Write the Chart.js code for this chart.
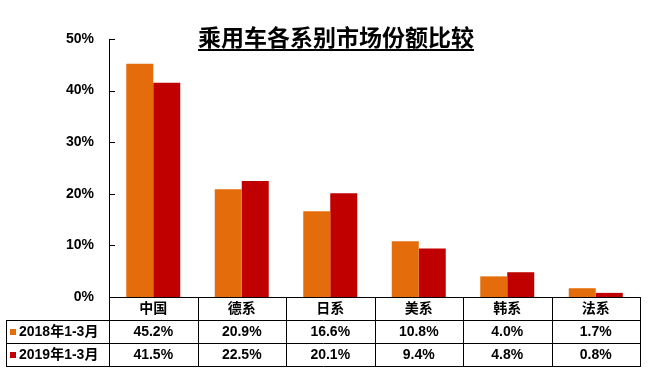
<!DOCTYPE html>
<html>
<head>
<meta charset="utf-8">
<script src="https://cdn.jsdelivr.net/npm/chart.js@4/dist/chart.umd.min.js"></script>
<style>
  html, body { margin: 0; padding: 0; background: #fff; }
  #wrap { width: 648px; height: 371px; position: relative; }
</style>
</head>
<body>
<div id="wrap"><canvas id="c" width="648" height="371"></canvas></div>
<script>
// -- data --
const TITLE = '乘用车各系别市场份额比较';
const categories = ['中国', '德系', '日系', '美系', '韩系', '法系'];
const seriesNames = ['2018年1-3月', '2019年1-3月'];
const share2018 = [45.2, 20.9, 16.6, 10.8, 4.0, 1.7];
const share2019 = [41.5, 22.5, 20.1, 9.4, 4.8, 0.8];
const yTicks = [0, 10, 20, 30, 40, 50];

const COLORS = {
    orange: '#E46C0A',
    red: '#C00000',
    line: '#000000',
    text: '#000000',
};

const FONT_NUM = "bold 14px 'Liberation Sans', Arial, 'Noto Sans CJK SC', sans-serif";

// title, inside ticks and the data table under the plot
const tablePlugin = {
    id: 'dataTable',
    afterDraw(chart) {
        const ctx = chart.ctx;
        const area = chart.chartArea;
        const y = chart.scales.y;
        const left = Math.round(area.left);
        const right = Math.round(area.right);
        const base = Math.round(area.bottom);
        const rowH = 23;
        const tableLeft = 6;
        const colW = (right - left) / categories.length;

        ctx.save();

        // title with underline
        ctx.fillStyle = COLORS.text;
        ctx.font = "bold 23px 'Noto Sans CJK SC', sans-serif";
        ctx.textAlign = 'center';
        ctx.textBaseline = 'middle';
        const tx = 336;
        const ty = 37;
        ctx.fillText(TITLE, tx, ty);
        const tw = ctx.measureText(TITLE).width;
        ctx.fillRect(tx - tw / 2, ty + 12, tw, 2);

        // inside tick marks
        ctx.strokeStyle = COLORS.line;
        ctx.lineWidth = 1;
        ctx.beginPath();
        yTicks.forEach(t => {
            const py = Math.round(y.getPixelForValue(t)) + 0.5;
            ctx.moveTo(left, py);
            ctx.lineTo(left + 6, py);
        });
        // y axis, running down through the table
        ctx.moveTo(left + 0.5, Math.round(area.top));
        ctx.lineTo(left + 0.5, base + rowH * 3);
        // table horizontals
        ctx.moveTo(left, base + 0.5);
        ctx.lineTo(right + 1, base + 0.5);
        for (let r = 1; r <= 3; r++) {
            ctx.moveTo(tableLeft, base + rowH * r + 0.5);
            ctx.lineTo(right + 1, base + rowH * r + 0.5);
        }
        // table verticals
        ctx.moveTo(tableLeft + 0.5, base + rowH);
        ctx.lineTo(tableLeft + 0.5, base + rowH * 3 + 1);
        for (let i = 1; i <= categories.length; i++) {
            const px = Math.round(left + colW * i) + 0.5;
            ctx.moveTo(px, base);
            ctx.lineTo(px, base + rowH * 3 + 1);
        }
        ctx.stroke();

        // header and values
        ctx.font = FONT_NUM;
        ctx.textAlign = 'center';
        const rows = [share2018, share2019];
        categories.forEach((cat, i) => {
            const cx = left + colW * (i + 0.5);
            ctx.fillText(cat, cx, base + rowH * 0.5 + 1);
            rows.forEach((vals, r) => {
                ctx.fillText(vals[i].toFixed(1) + '%', cx, base + rowH * (r + 1.5) + 1);
            });
        });

        // series labels with colour keys
        const keyColors = [COLORS.orange, COLORS.red];
        ctx.textAlign = 'left';
        seriesNames.forEach((name, r) => {
            const cy = base + rowH * (r + 1.5);
            ctx.fillStyle = keyColors[r];
            ctx.fillRect(10, Math.round(cy) - 3, 6, 6);
            ctx.fillStyle = COLORS.text;
            ctx.fillText(name, 19, cy + 1);
        });

        ctx.restore();
    },
};

new Chart(document.getElementById('c'), {
    type: 'bar',
    data: {
        labels: categories,
        datasets: [
            { label: seriesNames[0], data: share2018, backgroundColor: COLORS.orange },
            { label: seriesNames[1], data: share2019, backgroundColor: COLORS.red },
        ],
    },
    options: {
        responsive: false,
        animation: false,
        events: [],
        layout: { padding: { top: 39, right: 8, bottom: 74, left: 0 } },
        datasets: { bar: { barPercentage: 1.0, categoryPercentage: 0.61 } },
        plugins: {
            legend: { display: false },
            title: { display: false },
            tooltip: { enabled: false },
        },
        scales: {
            x: { display: false },
            y: {
                min: 0,
                max: 50,
                afterFit: (scale) => { scale.width = 109; },
                afterBuildTicks: (scale) => { scale.ticks = yTicks.map(v => ({ value: v })); },
                grid: { display: false, drawTicks: false },
                border: { display: false },
                ticks: {
                    padding: 15,
                    color: COLORS.text,
                    font: { family: "'Liberation Sans', Arial, sans-serif", size: 14, weight: 'bold' },
                    callback: (v) => v + '%',
                },
            },
        },
    },
    plugins: [tablePlugin],
});
</script>
</body>
</html>
